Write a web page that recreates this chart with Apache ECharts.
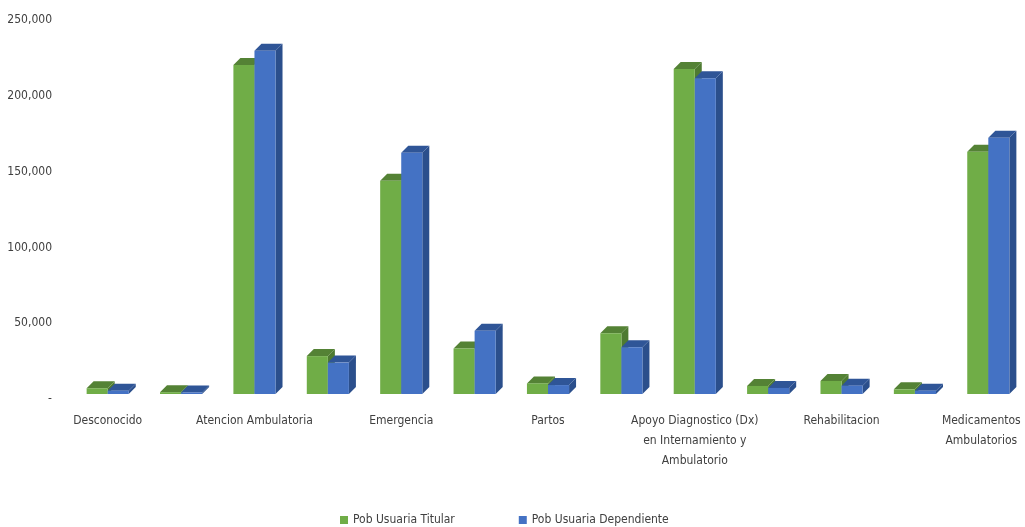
<!DOCTYPE html>
<html>
<head>
<meta charset="utf-8">
<script src="https://cdn.jsdelivr.net/npm/echarts@6/dist/echarts.min.js"></script>
<style>
html,body{margin:0;padding:0;background:#fff;}
#c{width:1025px;height:527px;}
</style>
</head>
<body>
<div id="c"></div>
<script>
// ---- data ----
var categories = [
  'Desconocido', '',
  'Atencion Ambulatoria', '',
  'Emergencia', '',
  'Partos', '',
  'Apoyo Diagnostico (Dx)\nen Internamiento y\nAmbulatorio', '',
  'Rehabilitacion', '',
  'Medicamentos\nAmbulatorios'
];
var titular =     [3800, 1200, 217000, 25000, 140700, 30000, 7000, 40000, 214400, 5300, 8600, 3100, 159800];
var dependiente = [2200, 1000, 226400, 20700, 159200, 41800, 5900, 30800, 208200, 4000, 5500, 2200, 169100];
var seriesNames = ['Pob Usuaria Titular', 'Pob Usuaria Dependiente'];

var FONT = "'Liberation Sans Narrow','DejaVu Sans Condensed','Open Sans',sans-serif";
var FS = 12;
var palettes = [
  {front: '#70AD47', top: '#548235', side: '#4E7A31'},
  {front: '#4472C4', top: '#2F5597', side: '#2B4F8C'}
];
var DEPTH = 7, SHIFT = -5;

function makeRender(si) {
  return function (params, api) {
    var ci = api.value(0), v = api.value(1);
    var topPt = api.coord([ci, v]);
    var basePt = api.coord([ci, 0]);
    var band = api.size([1, 0])[0];
    var w = band * 0.287;
    var x0 = si === 0 ? topPt[0] - w : topPt[0];
    var yT = topPt[1] + SHIFT, yB = basePt[1] + SHIFT;
    var d = DEPTH, p = palettes[si];
    return {
      type: 'group',
      children: [
        {type: 'polygon', shape: {points: [[x0 + w, yT], [x0 + w + d, yT - d], [x0 + w + d, yB - d], [x0 + w, yB]]}, style: {fill: p.side}},
        {type: 'polygon', shape: {points: [[x0, yT], [x0 + d, yT - d], [x0 + w + d, yT - d], [x0 + w, yT]]}, style: {fill: p.top}},
        {type: 'rect', shape: {x: x0, y: yT, width: w, height: yB - yT}, style: {fill: p.front}}
      ]
    };
  };
}

var axisData = categories.map(function (c, i) {
  if (i === categories.length - 1) {
    return {value: c, textStyle: {padding: [0, 14, 0, 0]}};
  }
  return c;
});

var chart = echarts.init(document.getElementById('c'), null, {renderer: 'canvas'});
chart.setOption({
  animation: false,
  textStyle: {fontFamily: FONT},
  grid: {left: 71, right: 0, top: 20, bottom: 128, containLabel: false, outerBoundsMode: 'none'},
  legend: {
    top: 509, left: 335,
    icon: 'rect', itemWidth: 8, itemHeight: 8, itemGap: 64,
    textStyle: {fontFamily: FONT, fontSize: FS, color: '#404040'},
    data: seriesNames
  },
  xAxis: {
    type: 'category', data: axisData,
    axisLine: {show: false}, axisTick: {show: false},
    axisLabel: {interval: 0, margin: 12, fontFamily: FONT, fontSize: FS, color: '#404040', lineHeight: 20}
  },
  yAxis: {
    type: 'value', min: 0, max: 250000, interval: 50000,
    splitLine: {show: false}, axisLine: {show: false}, axisTick: {show: false},
    axisLabel: {
      margin: 19, fontFamily: FONT, fontSize: FS, color: '#404040',
      formatter: function (val) { return val === 0 ? '-' : val.toLocaleString('en-US'); }
    }
  },
  series: [
    {name: seriesNames[0], type: 'custom', renderItem: makeRender(0), itemStyle: {color: palettes[0].front},
     encode: {x: 0, y: 1}, data: titular.map(function (v, i) { return [i, v]; })},
    {name: seriesNames[1], type: 'custom', renderItem: makeRender(1), itemStyle: {color: palettes[1].front},
     encode: {x: 0, y: 1}, data: dependiente.map(function (v, i) { return [i, v]; })}
  ]
});
</script>
</body>
</html>
